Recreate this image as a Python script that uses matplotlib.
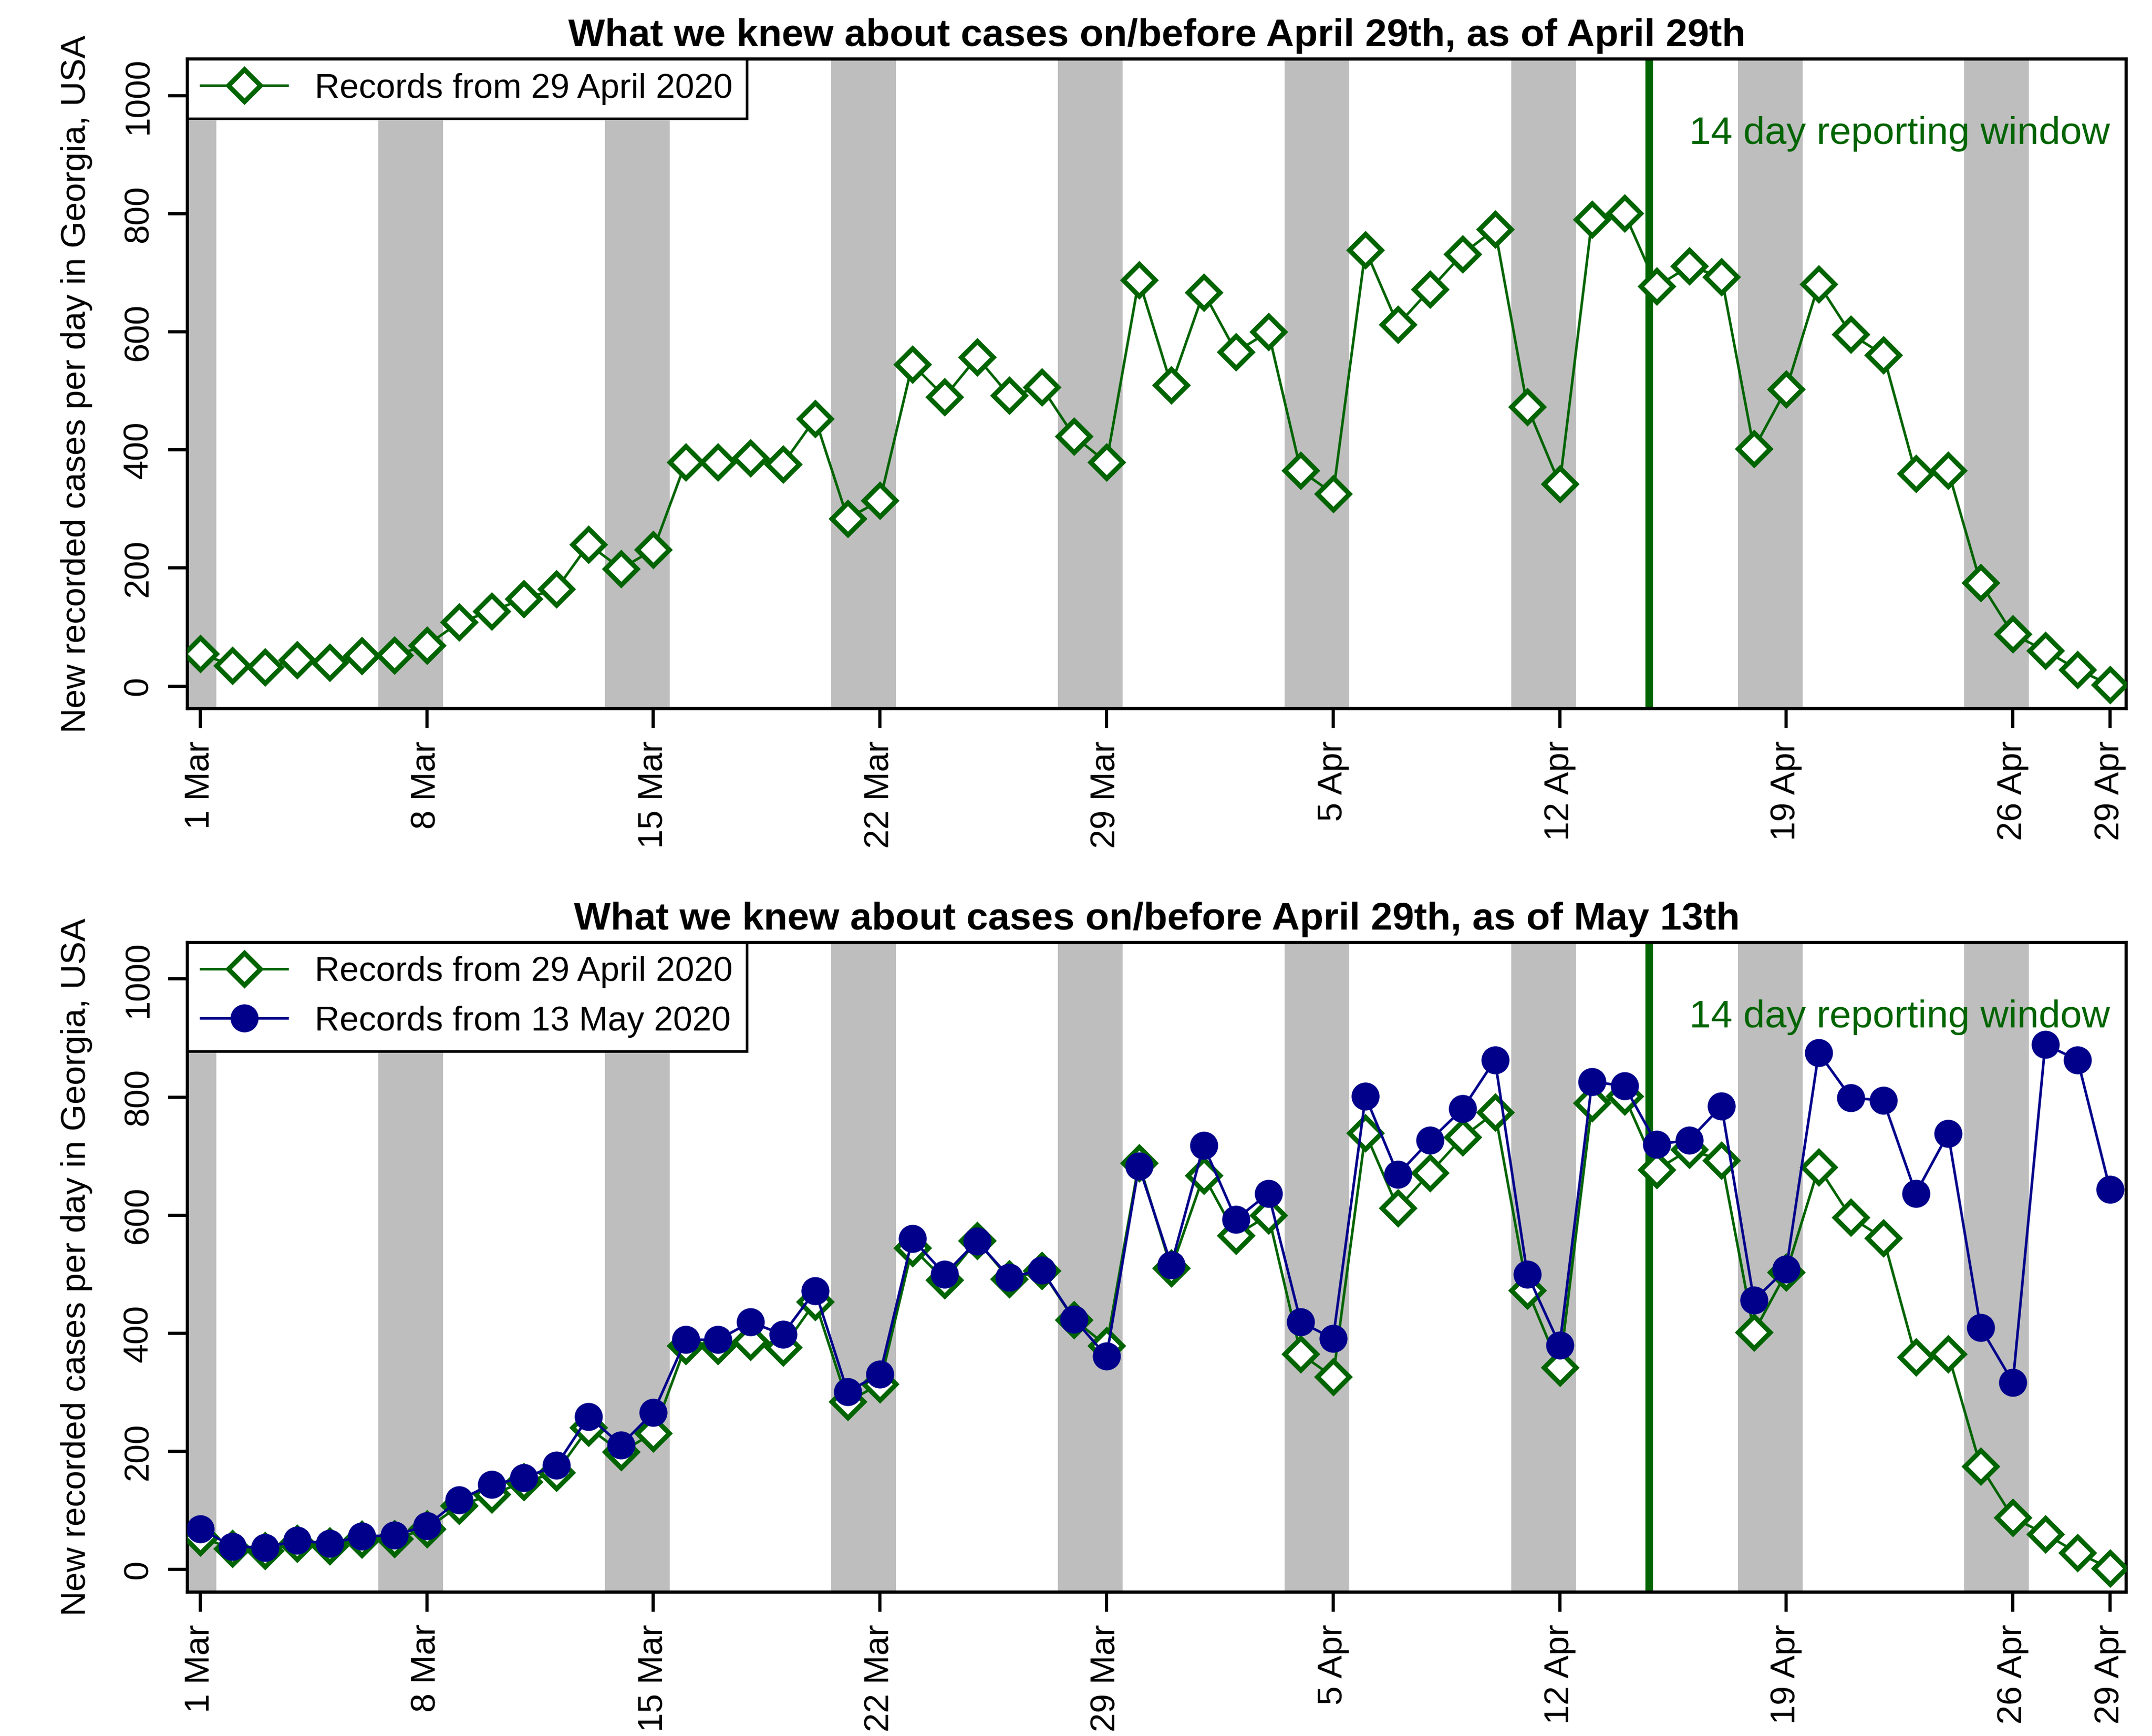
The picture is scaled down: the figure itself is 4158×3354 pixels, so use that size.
import matplotlib
matplotlib.use("Agg")
import matplotlib.pyplot as plt
import numpy as np

plt.rcParams['font.family'] = ['Liberation Sans', 'DejaVu Sans']

# day index 0 = 1 Mar 2020, 59 = 29 Apr 2020
records_apr29 = [55, 35, 32, 44, 40, 51, 52, 69, 108, 127, 148, 164, 240, 199, 231,
                 379, 379, 386, 376, 453, 284, 314, 545, 490, 557, 492, 506, 423, 379,
                 688, 510, 667, 566, 600, 365, 326, 739, 612, 672, 732, 774, 473, 342,
                 790, 801, 677, 711, 693, 402, 503, 681, 596, 561, 360, 365, 175, 88,
                 60, 28, 2]
records_may13 = [69, 39, 37, 49, 44, 56, 58, 74, 118, 144, 155, 176, 259, 211, 266,
                 389, 389, 419, 398, 472, 301, 331, 560, 500, 556, 495, 507, 424, 361,
                 683, 516, 718, 593, 637, 419, 391, 801, 669, 727, 780, 863, 500, 380,
                 826, 819, 720, 727, 785, 456, 509, 875, 799, 794, 637, 738, 410, 317,
                 889, 863, 644]
tick_days = [0, 7, 14, 21, 28, 35, 42, 49, 56, 59]
tick_labels = ["1 Mar", "8 Mar", "15 Mar", "22 Mar", "29 Mar", "5 Apr", "12 Apr",
               "19 Apr", "26 Apr", "29 Apr"]
weekend_starts = [-1, 6, 13, 20, 27, 34, 41, 48, 55]
window_day = 44.75

green = "#006400"
blue = "#00008B"
days = np.arange(len(records_apr29))

fig, axes = plt.subplots(2, 1, figsize=(13.86, 11.18), dpi=300)
titles = ["What we knew about cases on/before April 29th, as of April 29th",
          "What we knew about cases on/before April 29th, as of May 13th"]

for i, ax in enumerate(axes):
    for s in weekend_starts:
        ax.axvspan(s - 0.5, s + 1.5, color="#bebebe", lw=0, zorder=0)
    ax.axvline(window_day, color=green, lw=3.5, zorder=1)
    ax.text(59.0, 935, "14 day reporting window", color=green, fontsize=18,
            ha="right", va="center")
    ax.plot(days, records_apr29, color=green, lw=1.2, marker="D", ms=10.5,
            mfc="white", mec=green, mew=2.2, label="Records from 29 April 2020", zorder=3)
    if i == 1:
        ax.plot(days, records_may13, color=blue, lw=1.2, marker="o", ms=12,
                mfc=blue, mec=blue, label="Records from 13 May 2020", zorder=4)
    ax.set_xlim(-0.4, 59.5)
    ax.set_ylim(-38, 1062)
    ax.set_yticks(range(0, 1001, 200))
    ax.set_yticklabels([str(v) for v in range(0, 1001, 200)], rotation=90, va="center")
    ax.set_xticks(tick_days)
    ax.set_xticklabels(tick_labels, rotation=90)
    ax.tick_params(labelsize=16, length=9, width=1.5, direction="out", pad=6)
    for sp in ax.spines.values():
        sp.set_linewidth(1.5)
    ax.set_title(titles[i], fontsize=18, fontweight="bold", pad=6)
    ax.set_ylabel("New recorded cases per day in Georgia, USA", fontsize=16, labelpad=14)
    leg = ax.legend(loc="upper left", fontsize=16, fancybox=False, framealpha=1,
                    edgecolor="black", borderaxespad=0, handlelength=2.5)
    leg.get_frame().set_linewidth(1.2)

fig.subplots_adjust(left=0.087, right=0.988, top=0.966, bottom=0.083, hspace=0.36)
fig.savefig("out.png", dpi=300)
